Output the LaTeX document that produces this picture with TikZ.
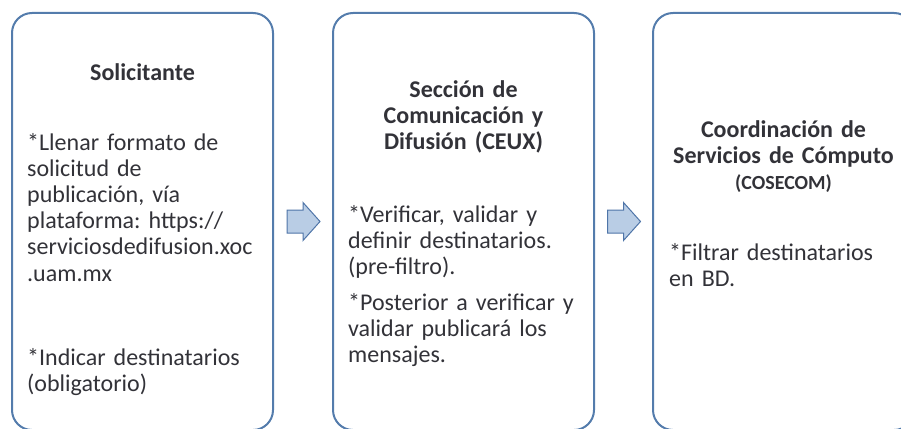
\documentclass[tikz,border=0pt]{standalone}
\usepackage{fontspec}
\setmainfont{Carlito}
\usetikzlibrary{calc}
\definecolor{boxline}{RGB}{84,124,172}
\definecolor{arrowfill}{RGB}{185,205,229}
\definecolor{arrowline}{RGB}{79,117,168}
\definecolor{txt}{RGB}{50,50,56}
\tikzset{
  panel/.style={draw=boxline, line width=2pt, rounded corners=20pt, minimum width=261pt, minimum height=417pt, inner sep=0pt},
  ttl/.style={font=\fontsize{24}{26.4}\selectfont\bfseries\frenchspacing, text=txt, align=center, text width=261pt, inner sep=0pt, anchor=base},
  body/.style={font=\fontsize{24}{26.2}\selectfont\frenchspacing, text=txt, align=left, text width=245pt, inner sep=0pt, anchor=base west},
  blockarrow/.style={draw=arrowline, fill=arrowfill, line width=1pt, line join=miter}
}
\begin{document}
\begin{tikzpicture}[x=1pt,y=-1pt]
\useasboundingbox (0,0) rectangle (901,428);
\clip (0,0) rectangle (901,428);
% panels
\node[panel] (p1) at (142.5,221.5) {};
\node[panel] (p2) at (463.5,221.5) {};
\node[panel] (p3) at (783.5,221.5) {};
% titles
\node[ttl] (t1) at (142.5,80) {Solicitante};
\node[ttl] (t2) at (463.5,97) {Sección de\\Comunicación y\\Difusión (CEUX)};
\node[ttl] (t3) at (783.5,137) {Coordinación de\\Servicios de Cómputo\\{\fontsize{20}{26.4}\selectfont (COSECOM)}};
% bodies
\node[body] (b1a) at (27,150) {*Llenar formato de\\solicitud de\\publicación, vía\\plataforma: https://\\serviciosdedifusion.xoc\\.uam.mx};
\node[body] (b1b) at (27,365) {*Indicar destinatarios\\(obligatorio)};
\node[body] (b2a) at (348,222.5) {*Verificar, validar y\\definir destinatarios.\\(pre-filtro).};
\node[body] (b2b) at (348,310) {*Posterior a verificar y\\validar publicará los\\mensajes.};
\node[body] (b3a) at (669,260) {*Filtrar destinatarios\\en BD.};
% block arrows
\coordinate (a1) at ($(p1.east)!0.5!(p2.west)$);
\coordinate (a2) at ($(p2.east)!0.5!(p3.west)$);
\foreach \a in {a1,a2}{
  \draw[blockarrow] ([shift={(-16,-11.5)}]\a) -- ([shift={(0,-11.5)}]\a) -- ([shift={(0,-19)}]\a)
    -- ([shift={(17,0)}]\a) -- ([shift={(0,19)}]\a) -- ([shift={(0,11.5)}]\a)
    -- ([shift={(-16,11.5)}]\a) -- cycle;
}
\end{tikzpicture}
\end{document}
